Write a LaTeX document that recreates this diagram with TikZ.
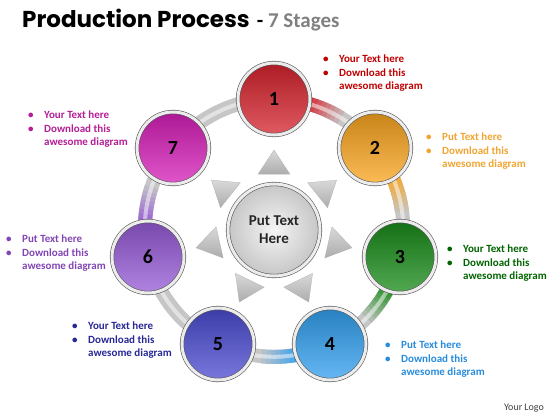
\documentclass[tikz,border=0pt]{standalone}
\usepackage{fontspec}
\usepackage{tikz}
\setmainfont{Carlito}
\newfontfamily\titlefont[Ligatures={NoCommon,NoDiscretionary,NoRare}]{Poppins}
\usetikzlibrary{backgrounds}
\usetikzlibrary{positioning}
\definecolor{c1}{RGB}{215,35,45}
\definecolor{c2}{RGB}{250,165,30}
\definecolor{c3}{RGB}{25,140,25}
\definecolor{c4}{RGB}{50,160,240}
\definecolor{c5}{RGB}{75,75,210}
\definecolor{c6}{RGB}{150,90,215}
\definecolor{c7}{RGB}{215,30,185}
\definecolor{t1}{RGB}{192,0,0}
\definecolor{t2}{RGB}{240,165,50}
\definecolor{t3}{RGB}{0,100,0}
\definecolor{t4}{RGB}{40,140,220}
\definecolor{t5}{RGB}{40,40,150}
\definecolor{t6}{RGB}{130,70,180}
\definecolor{t7}{RGB}{180,30,150}
\colorlet{ringgray}{gray!45}
\newcommand{\notetext}[1]{\makebox[16pt][l]{\textbullet}#1\\
  \makebox[16pt][l]{\textbullet}Download this\\
  \hspace*{16pt}awesome diagram}

\begin{document}
\begin{tikzpicture}[x=1pt, y=-1pt,
    stage/.style={circle, minimum size=72pt, inner sep=0pt, top color=#1!80!black,
                  middle color=#1, bottom color=#1!75!white, draw=gray!70!black,
                  line width=0.6pt, double=gray!15, double distance=3pt,
                  font=\fontsize{20}{20}\selectfont\bfseries},
    note/.style={anchor=north west, inner sep=0pt, align=left, text=#1,
                 font=\fontsize{11}{13.5}\selectfont\bfseries},
    link/.style={draw=ringgray, line width=14pt},
    spike/.style={top color=gray!30, bottom color=gray!65, draw=gray!60, line width=0.3pt}]
    \useasboundingbox (0,0) rectangle (560,420);

    \node[anchor=base west, inner sep=0pt] (title) at (22,28)
        {{\titlefont\fontsize{23}{23}\selectfont\bfseries Production Process}
         {\fontsize{21}{21}\selectfont\bfseries\ - \textcolor{gray}{7 Stages}}};

    \coordinate (ring) at (274,228);
    \node[circle, minimum size=92pt, inner sep=0pt, shading=radial, inner color=gray!8,
          outer color=gray!45, draw=gray!70!black, line width=0.6pt, double=gray!15,
          double distance=3pt, align=center, text=black!85,
          font=\fontsize{15}{18}\selectfont\bfseries] (hub) at (274,230) {Put Text\\Here};

    \node[stage=c1] (s1) at (274,99) {1};
    \node[stage=c2] (s2) at (375,148) {2};
    \node[stage=c3] (s3) at (400,257) {3};
    \node[stage=c4] (s4) at (330,344) {4};
    \node[stage=c5] (s5) at (218,344) {5};
    \node[stage=c6] (s6) at (148,257) {6};
    \node[stage=c7] (s7) at (173,148) {7};

    \node[note=t1] (n1) at (323,55) {\notetext{Your Text here}};
    \node[note=t2] (n2) at (426,133) {\notetext{Put Text here}};
    \node[note=t3] (n3) at (447,245) {\notetext{Your Text here}};
    \node[note=t4] (n4) at (385,341) {\notetext{Put Text here}};
    \node[note=t5] (n5) at (72,322) {\notetext{Your Text here}};
    \node[note=t6] (n6) at (6,235) {\notetext{Put Text here}};
    \node[note=t7] (n7) at (28,111) {\notetext{Your Text here}};

    \node[text=black!75, font=\fontsize{10}{10}\selectfont] (logo) at (524,408) {Your Logo};

    \begin{scope}[on background layer]
        % spikes round the hub
        \foreach \a in {-90,-38.57,12.86,64.29,115.71,167.14,218.57}
            \draw[spike, shift={(hub)}] (\a:80) -- (\a+16:58) -- (\a-16:58) -- cycle;
        % ring, centre to centre behind the stages
        \foreach \p/\q in {s1/s2, s2/s3, s3/s4, s4/s5, s5/s6, s6/s7, s7/s1}
            \draw[link] (\p.center) to[bend left=25.7, looseness=0.9] (\q.center);
        % colour running out of a stage into the ring
        \foreach \a/\c in {-90/c1, -38.57/c2, 12.86/c3, 64.29/c4, 167.14/c6}
            \foreach \i in {0,...,7} {
                \pgfmathsetmacro\pct{90-11*\i}
                \draw[link, draw=\c!\pct!ringgray] ([shift={(\a+15+2*\i:129)}]ring)
                    arc[start angle=\a+15+2*\i, delta angle=2.3, radius=129];
            }
        \foreach \p/\q in {s1/s2, s2/s3, s3/s4, s4/s5, s5/s6, s6/s7, s7/s1}
            \draw[white, opacity=0.5, line width=4pt]
                (\p.center) to[bend left=25.7, looseness=0.9] (\q.center);
    \end{scope}
\end{tikzpicture}
\end{document}
